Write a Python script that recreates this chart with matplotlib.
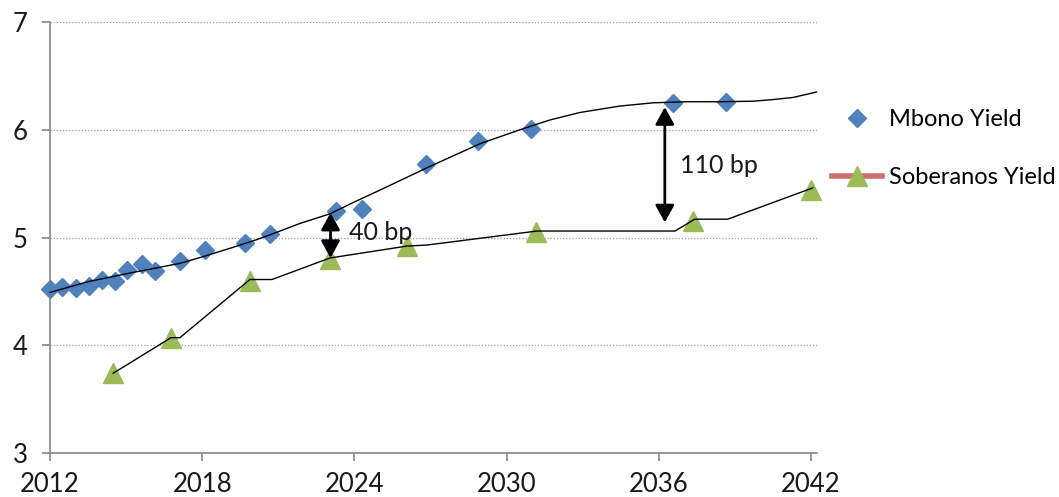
import numpy as np
import matplotlib.pyplot as plt
from matplotlib.lines import Line2D

plt.rcParams['font.family'] = ['Lato', 'DejaVu Sans']

# Mbono points (diamonds)
mbono_year = [2012.0, 2012.49, 2013.02, 2013.55, 2014.04, 2014.56, 2015.05, 2015.61,
              2016.14, 2017.12, 2018.13, 2019.69, 2020.67, 2023.27, 2024.29,
              2026.82, 2028.88, 2030.96, 2036.57, 2038.67]
mbono_yield = [4.52, 4.54, 4.53, 4.55, 4.61, 4.60, 4.70, 4.75,
               4.69, 4.78, 4.88, 4.95, 5.03, 5.25, 5.26,
               5.68, 5.90, 6.01, 6.25, 6.26]

# Mbono fitted curve
mbono_fit_year = [2012.0, 2013.5, 2015.15, 2017.12, 2018.0, 2019.1, 2020.15, 2021.07,
                  2021.85, 2023.04, 2024.0, 2025.01, 2026.98, 2028.95, 2030.53,
                  2031.7, 2032.89, 2034.47, 2035.78, 2037.1, 2038.4, 2039.72,
                  2040.5, 2041.3, 2042.22]
mbono_fit = [4.49, 4.59, 4.67, 4.76, 4.82, 4.90, 4.98, 5.06,
             5.13, 5.22, 5.33, 5.44, 5.66, 5.87, 6.00,
             6.09, 6.16, 6.22, 6.25, 6.26, 6.26, 6.265,
             6.28, 6.30, 6.35]

# Soberanos points (triangles)
sob_year = [2014.49, 2016.77, 2019.88, 2023.04, 2026.06, 2031.18, 2037.35, 2042.0]
sob_yield = [3.74, 4.07, 4.60, 4.80, 4.92, 5.05, 5.15, 5.44]

# Soberanos black line
sob_line_year = [2014.49, 2016.77, 2017.12, 2019.88, 2020.75, 2023.04, 2026.06,
                 2026.86, 2031.2, 2036.64, 2037.42, 2038.72, 2042.07]
sob_line = [3.74, 4.07, 4.07, 4.61, 4.61, 4.81, 4.92,
            4.93, 5.06, 5.06, 5.17, 5.17, 5.46]

blue = '#4F81BD'
green = '#9BBB59'
grey = '#868686'

fig = plt.figure(figsize=(10.59, 4.97), dpi=100)
ax = fig.add_axes([50 / 1059, 1 - 453 / 497, 767 / 1059, 431 / 497])

ax.plot(mbono_year, mbono_yield, ls='none', marker='D', ms=9, color=blue,
        mec=blue, zorder=3, clip_on=False)
ax.plot(sob_year, sob_yield, ls='none', marker='^', ms=15, color=green,
        mec=green, zorder=3, clip_on=False)
ax.plot(mbono_fit_year, mbono_fit, color='black', lw=1, zorder=4, clip_on=False)
ax.plot(sob_line_year, sob_line, color='black', lw=1, zorder=4, clip_on=False)

# spread arrows
arrow = dict(arrowstyle='<|-|>,head_length=0.4,head_width=0.22', color='black',
             lw=2, mutation_scale=26, shrinkA=0, shrinkB=0)
ax.annotate('', xy=(2023.06, 4.81), xytext=(2023.06, 5.23), arrowprops=arrow, zorder=5)
ax.annotate('', xy=(2036.24, 5.14), xytext=(2036.24, 6.21), arrowprops=arrow, zorder=5)
ax.text(2023.8, 5.05, '40 bp', fontsize=18, va='center', ha='left', color='#1a1a1a')
ax.text(2036.85, 5.67, '110 bp', fontsize=18, va='center', ha='left', color='#1a1a1a')

ax.set_xlim(2012, 2042.24)
ax.set_ylim(3, 7)
ax.set_xticks([2012, 2018, 2024, 2030, 2036, 2042])
ax.set_yticks([3, 4, 5, 6, 7])

ax.yaxis.grid(True, ls=(0, (1, 1.5)), color='#9a9a9a', lw=0.9)
ax.set_axisbelow(True)
for s in ['top', 'right']:
    ax.spines[s].set_visible(False)
for s in ['left', 'bottom']:
    ax.spines[s].set_color(grey)
    ax.spines[s].set_linewidth(1.2)
ax.tick_params(axis='both', length=6, width=1.2, color=grey, labelsize=18.5,
               labelcolor='#1a1a1a')
ax.tick_params(axis='y', pad=10)
ax.tick_params(axis='x', pad=8)

handles = [
    Line2D([], [], ls='none', marker='D', ms=9, color=blue),
    Line2D([], [], color='#CD6F6C', lw=4, marker='^', ms=15, mfc=green, mec=green),
]
fig.legend(handles, ['Mbono Yield', 'Soberanos Yield'], loc='upper left',
           bbox_to_anchor=(832 / 1059, 1 - 109 / 497), frameon=False, fontsize=17,
           handlelength=2.1, handletextpad=0.3, labelspacing=1.58, borderaxespad=0,
           borderpad=0)

fig.savefig('out.png', dpi=100)
